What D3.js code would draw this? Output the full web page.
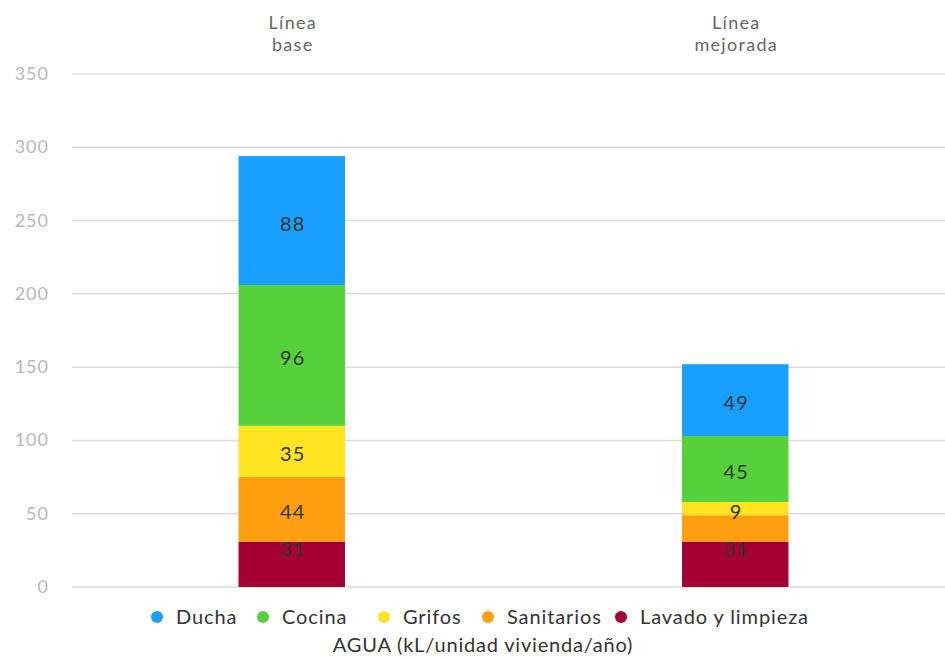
<!DOCTYPE html>
<html>
<head>
<meta charset="utf-8">
<script src="https://cdn.jsdelivr.net/npm/d3@7"></script>
<style>
  body { margin: 0; background: #fff; }
  text { font-family: Lato, "Noto Sans", sans-serif; }
</style>
</head>
<body>
<div id="chart"></div>
<script>
// data
var categories = [["Línea", "base"], ["Línea", "mejorada"]];
var series = ["Lavado y limpieza", "Sanitarios", "Grifos", "Cocina", "Ducha"];
var colors = ["#a50034", "#ff9f10", "#ffe41f", "#55d13b", "#189fff"];
var lavado = [31, 31];
var sanitarios = [44, 18];
var grifos = [35, 9];
var cocina = [96, 45];
var ducha = [88, 49];
// label hidden where it would collide
var showSanitarios = [true, false];
var yTicks = [0, 50, 100, 150, 200, 250, 300, 350];
var legendOrder = ["Ducha", "Cocina", "Grifos", "Sanitarios", "Lavado y limpieza"];
var axisTitle = "AGUA (kL/unidad vivienda/año)";

var width = 945, height = 658;
var svg = d3.select("#chart").append("svg")
  .attr("width", width).attr("height", height);

var rows = categories.map(function(c, i) {
  return { cat: i, "Lavado y limpieza": lavado[i], "Sanitarios": sanitarios[i],
           "Grifos": grifos[i], "Cocina": cocina[i], "Ducha": ducha[i] };
});
var stacked = d3.stack().keys(series)(rows);

var x = d3.scaleBand().domain([0, 1]).range([70, 957]).paddingInner(0.76).paddingOuter(0.38);
var y = d3.scaleLinear().domain([0, 350]).range([587, 74]);

// gridlines
svg.append("g").selectAll("line")
  .data(yTicks).enter().append("line")
    .attr("x1", 72).attr("x2", width)
    .attr("y1", function(d) { return y(d); })
    .attr("y2", function(d) { return y(d); })
    .attr("stroke", "#dcdcdc").attr("stroke-width", 1.5);

// y tick labels
svg.append("g").selectAll("text")
  .data(yTicks).enter().append("text")
    .attr("x", 49).attr("y", function(d) { return y(d) + 6; })
    .attr("text-anchor", "end")
    .attr("font-size", 18).attr("letter-spacing", 1).attr("fill", "#b8b8b8")
    .text(function(d) { return d; });

// category labels on top
var catG = svg.append("g").selectAll("text")
  .data(categories).enter().append("text")
    .attr("text-anchor", "middle")
    .attr("font-size", 18).attr("letter-spacing", 1.3).attr("fill", "#666");
catG.each(function(d, i) {
  var t = d3.select(this);
  d.forEach(function(line, j) {
    t.append("tspan")
      .attr("x", x(i) + x.bandwidth() / 2 + 1)
      .attr("y", 29 + j * 22)
      .text(line);
  });
});

// bars
var layers = svg.append("g").selectAll("g")
  .data(stacked).enter().append("g")
    .attr("fill", function(d, i) { return colors[i]; });
layers.selectAll("rect")
  .data(function(d) { return d; }).enter().append("rect")
    .attr("x", function(d, i) { return x(i); })
    .attr("y", function(d) { return y(d[1]); })
    .attr("width", x.bandwidth())
    .attr("height", function(d) { return y(d[0]) - y(d[1]); });

// value labels
layers.each(function(layer, k) {
  d3.select(this).selectAll("text")
    .data(layer).enter().append("text")
      .filter(function(d, i) { return !(layer.key === "Sanitarios" && !showSanitarios[i]); })
      .attr("x", function(d) { return x(d.data.cat) + x.bandwidth() / 2 + 1; })
      .attr("y", function(d) {
        if (k === 0) return y(d[1]) + 14;
        return (y(d[0]) + y(d[1])) / 2 + 10;
      })
      .attr("text-anchor", "middle")
      .attr("font-size", 20).attr("letter-spacing", 1.2).attr("fill", "#333")
      .text(function(d) { return d[1] - d[0]; });
});

// legend
var legendX = [157, 263, 384, 488, 621];
var lg = svg.append("g").selectAll("g")
  .data(legendOrder).enter().append("g")
    .attr("transform", function(d, i) { return "translate(" + legendX[i] + ",617)"; });
lg.append("circle").attr("r", 6)
  .attr("fill", function(d) { return colors[series.indexOf(d)]; });
lg.append("text").attr("x", 19).attr("y", 7)
  .attr("font-size", 20).attr("letter-spacing", 0.9).attr("fill", "#333")
  .text(function(d) { return d; });

// axis title
svg.append("text")
  .attr("x", 483).attr("y", 652)
  .attr("text-anchor", "middle")
  .attr("font-size", 20).attr("letter-spacing", 0.8).attr("fill", "#333")
  .text(axisTitle);
</script>
</body>
</html>
